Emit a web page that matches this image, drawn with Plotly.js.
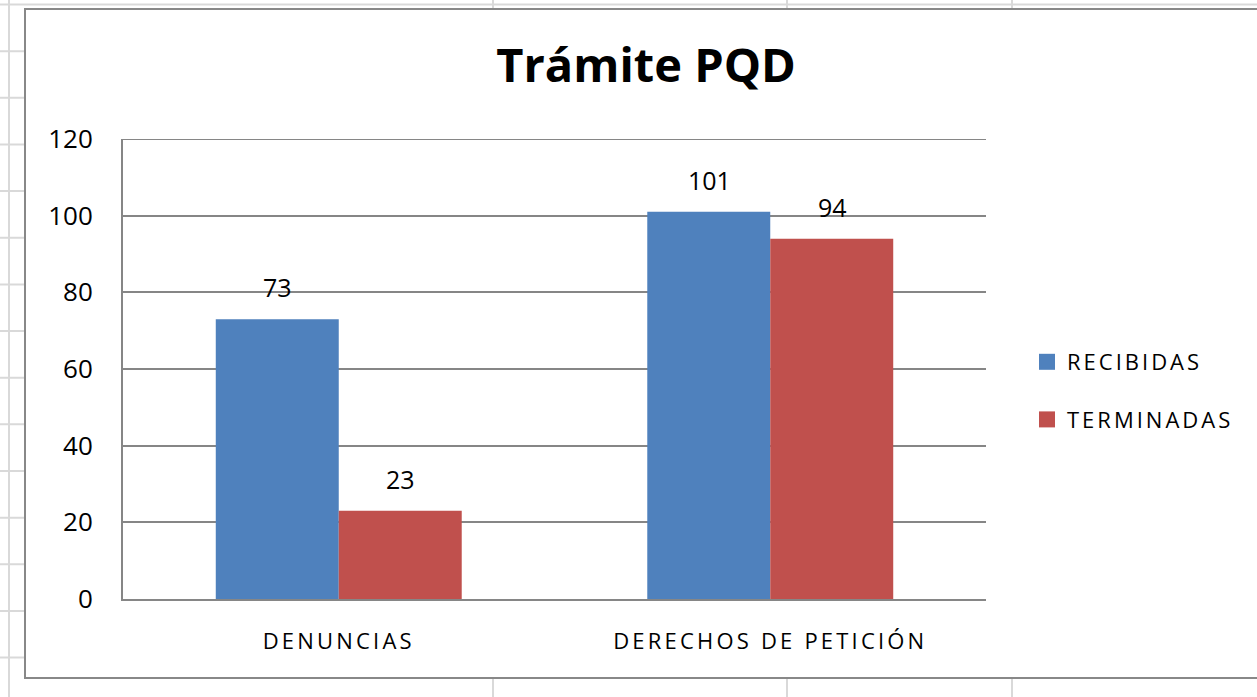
<!DOCTYPE html>
<html>
<head>
<meta charset="utf-8">
<script src="https://cdn.plot.ly/plotly-3.0.1.min.js"></script>
<style>
  html, body { margin: 0; padding: 0; background: #ffffff; }
  #chart { width: 1257px; height: 697px; }
  /* Excel renders these labels with loose letter spacing;
     unscoped so plotly's text measuring node sees it too */
  .xtick text { letter-spacing: 3.2px; }
  .legendtext { letter-spacing: 3px; }
</style>
</head>
<body>
<div id="chart"></div>
<script>
// Trámite PQD — grouped bars, Excel-style look
const categories = ['DENUNCIAS', 'DERECHOS DE PETICIÓN'];
const seriesNames = ['RECIBIDAS', 'TERMINADAS'];
const recibidas = [73, 101];
const terminadas = [23, 94];
const yTicks = [0, 20, 40, 60, 80, 100, 120];

const COLOURS = ['#4F81BD', '#C0504D'];
const FONT = 'Open Sans, Liberation Sans, sans-serif';

// plot area in pixels (for the decorative sheet grid / chart border)
const W = 1257, H = 697;
const PL = 123, PR = 986, PT = 139, PB = 599;
const px2x = px => (px - PL) / (PR - PL);
const px2y = py => (PB - py) / (PB - PT);

function sheetShapes() {
    const grey = '#d9d9d9';
    const shapes = [];
    // sheet column lines
    [9, 493, 787, 1012].forEach(x => shapes.push({
        type: 'line', xref: 'paper', yref: 'paper', layer: 'below',
        x0: px2x(x), x1: px2x(x), y0: px2y(0), y1: px2y(H),
        line: { color: grey, width: 2 },
    }));
    // sheet row lines
    for (let y = 4.5; y < H; y += 46.65) {
        shapes.push({
            type: 'line', xref: 'paper', yref: 'paper', layer: 'below',
            x0: px2x(0), x1: px2x(W), y0: px2y(y), y1: px2y(y),
            line: { color: grey, width: 2 },
        });
    }
    // chart area (white, grey border) covers the sheet grid
    shapes.push({
        type: 'rect', xref: 'paper', yref: 'paper', layer: 'below',
        x0: px2x(25), x1: px2x(W + 20), y0: px2y(9), y1: px2y(678),
        fillcolor: '#ffffff', line: { color: '#888888', width: 2 },
    });
    // top gridline at the axis maximum (plotly skips it at the range edge)
    const top = yTicks[yTicks.length - 1];
    shapes.push({
        type: 'line', xref: 'paper', yref: 'y', layer: 'below',
        x0: 0, x1: 1, y0: top, y1: top,
        line: { color: '#868686', width: 2 },
    });
    return shapes;
}

const series = [recibidas, terminadas];
const traces = series.map((vals, i) => ({
    type: 'bar',
    x: categories,
    y: vals,
    name: seriesNames[i],
    showlegend: false,
    marker: { color: COLOURS[i], line: { width: 0 } },
    hoverinfo: 'skip',
}));
// legend-only entries so the swatches can be the larger Excel squares
seriesNames.forEach((name, i) => traces.push({
    type: 'scatter', mode: 'markers',
    x: [null], y: [null],
    name, legendgroup: name,
    marker: { symbol: 'square', size: 16, color: COLOURS[i] },
    hoverinfo: 'skip',
}));

// value labels above bars
const offsets = [-61, 62];
const annotations = [];
series.forEach((vals, i) => vals.forEach((v, j) => annotations.push({
    xref: 'x', yref: 'y', x: categories[j], y: v,
    xshift: offsets[i], yshift: 13, yanchor: 'bottom',
    text: String(v), showarrow: false,
    font: { family: FONT, size: 25, color: '#000000' },
})));

const layout = {
    width: W, height: H,
    paper_bgcolor: '#ffffff',
    plot_bgcolor: 'rgba(0,0,0,0)',
    font: { family: FONT, color: '#000000' },
    title: {
        text: '<b>Trámite PQD</b>',
        font: { family: FONT, size: 47, color: '#000000' },
        xref: 'container', x: 0.514, xanchor: 'center',
        yref: 'container', y: 1 - 66 / H, yanchor: 'middle',
    },
    margin: { l: PL, r: W - PR, t: PT, b: H - PB, pad: 0 },
    barmode: 'group',
    bargap: 0.43,
    bargroupgap: 0,
    xaxis: {
        showgrid: false,
        showline: true, linecolor: '#868686', linewidth: 2,
        ticks: '', tickfont: { family: FONT, size: 22 },
        ticklabelstandoff: 22,
        fixedrange: true,
    },
    yaxis: {
        range: [0, 120],
        tickvals: yTicks,
        showgrid: true, gridcolor: '#868686', gridwidth: 2,
        zeroline: false,
        showline: true, linecolor: '#868686', linewidth: 2,
        ticks: '', tickfont: { family: FONT, size: 26 },
        ticklabelstandoff: 23,
        fixedrange: true,
    },
    legend: {
        x: px2x(1027), xanchor: 'left',
        y: px2y(391), yanchor: 'middle',
        traceorder: 'grouped', tracegroupgap: 26,
        itemsizing: 'trace',
        font: { family: FONT, size: 22, color: '#000000' },
        bgcolor: 'rgba(0,0,0,0)',
        itemclick: false, itemdoubleclick: false,
    },
    shapes: sheetShapes(),
    annotations,
};

Plotly.newPlot('chart', traces, layout, { displayModeBar: false, staticPlot: true });
</script>
</body>
</html>
